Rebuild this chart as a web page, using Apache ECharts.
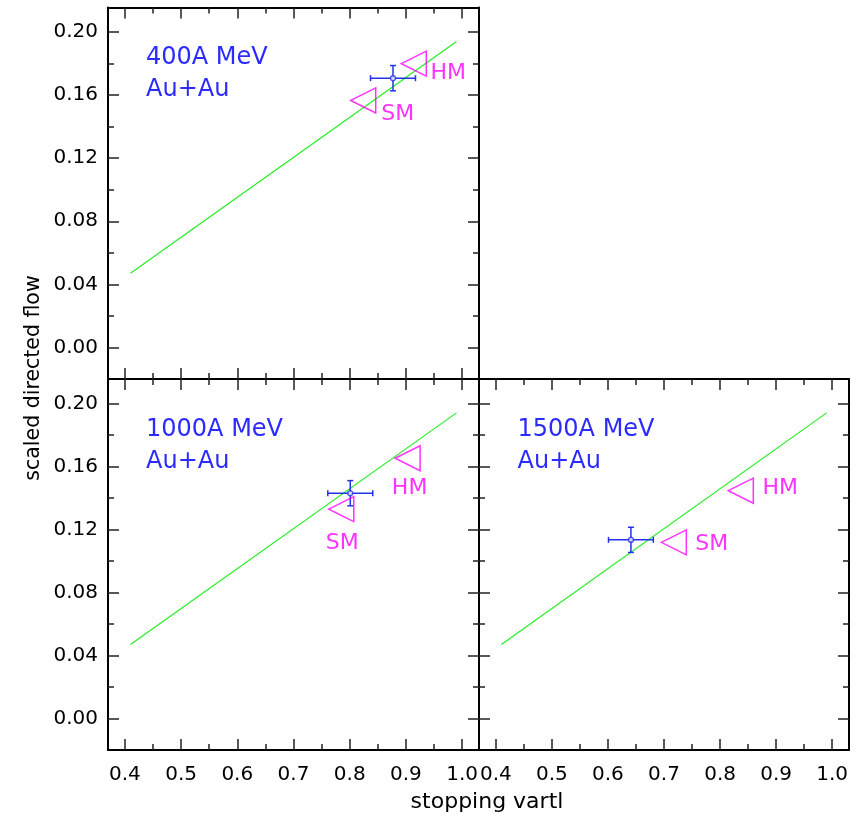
<!DOCTYPE html>
<html>
<head>
<meta charset="utf-8">
<script src="https://cdn.jsdelivr.net/npm/echarts@6/dist/echarts.min.js"></script>
<style>
html,body{margin:0;padding:0;background:#fff;}
#chart{width:867px;height:818px;}
</style>
</head>
<body>
<div id="chart"></div>
<script>
// ---- data ----
const xMajorTicks = [0.4, 0.5, 0.6, 0.7, 0.8, 0.9, 1.0];
const xMinorTicks = [0.45, 0.55, 0.65, 0.75, 0.85, 0.95];
const yMajorTicks = [0.00, 0.04, 0.08, 0.12, 0.16, 0.20];
const yMinorTicks = [0.02, 0.06, 0.10, 0.14, 0.18];

const panelEnergies = ['400A MeV', '1000A MeV', '1500A MeV'];
const systemName = 'Au+Au';

const fitLineX = [0.41, 0.99];
const fitLineY = [0.047, 0.194];

const expX = [0.877, 0.801, 0.641];
const expY = [0.1707, 0.143, 0.1134];
const expXErr = [0.040, 0.040, 0.040];
const expYErr = [0.008, 0.008, 0.008];

const hmX = [0.914, 0.903, 0.837];
const hmY = [0.1799, 0.1652, 0.1446];
const smX = [0.824, 0.785, 0.7175];
const smY = [0.1566, 0.1329, 0.1118];
const modelNames = ['HM', 'SM'];

const xTitle = 'stopping vartl';
const yTitle = 'scaled directed flow';

// ---- layout / style ----
const FONT = 'DejaVu Sans';
const BLUE = '#2b2bff';
const MAGENTA = '#ff00ff';
const GREEN = '#22ee22';
const ERR = '#2233e6';
const grids = [
  {left: 108, top: 7.5, width: 371, height: 371.5},
  {left: 108, top: 379, width: 371, height: 371},
  {left: 479, top: 379, width: 370, height: 371}
];
const showXLab = [false, true, true];
const showYLab = [true, true, false];
const hmLabelOffset = [[34.5, 10], [2, 30], [39.5, -2]];
const smLabelOffset = [[34.5, 14], [1, 34], [38, 2]];
const titlePos = [[146, 42], [146, 413.5], [517.5, 413.5]];

const xAxes = [], yAxes = [], series = [], titles = [];

function xAx(g, pos, ticks, len, main, labels) {
  return {
    gridIndex: g, type: 'value', min: 0.37, max: 1.03, position: pos,
    axisLine: {show: main, onZero: false, lineStyle: {color: '#000', width: 2}},
    splitLine: {show: false},
    axisTick: {show: true, inside: true, length: len, customValues: ticks, lineStyle: {color: '#222', width: 1.5}},
    axisLabel: {show: labels, customValues: ticks, formatter: v => v.toFixed(1), margin: 15,
      fontSize: 20, color: '#000', fontFamily: FONT}
  };
}
function yAx(g, pos, ticks, len, main, labels) {
  return {
    gridIndex: g, type: 'value', min: -0.02, max: 0.2155, position: pos,
    axisLine: {show: main, onZero: false, lineStyle: {color: '#000', width: 2}},
    splitLine: {show: false},
    axisTick: {show: true, inside: true, length: len, customValues: ticks, lineStyle: {color: '#222', width: 1.5}},
    axisLabel: {show: labels, customValues: ticks, formatter: v => v.toFixed(2), margin: 10,
      fontSize: 20, color: '#000', fontFamily: FONT}
  };
}

for (let g = 0; g < 3; g++) {
  const xi = xAxes.length, yi = yAxes.length;
  xAxes.push(xAx(g, 'bottom', xMajorTicks, 11, true, showXLab[g]));
  xAxes.push(xAx(g, 'bottom', xMinorTicks, 6, false, false));
  xAxes.push(xAx(g, 'top', xMajorTicks, 11, true, false));
  xAxes.push(xAx(g, 'top', xMinorTicks, 6, false, false));
  yAxes.push(yAx(g, 'left', yMajorTicks, 11, true, showYLab[g]));
  yAxes.push(yAx(g, 'left', yMinorTicks, 6, false, false));
  yAxes.push(yAx(g, 'right', yMajorTicks, 11, true, false));
  yAxes.push(yAx(g, 'right', yMinorTicks, 6, false, false));

  // fit line
  series.push({
    type: 'line', xAxisIndex: xi, yAxisIndex: yi, silent: true,
    data: fitLineX.map((x, i) => [x, fitLineY[i]]),
    showSymbol: false, lineStyle: {color: GREEN, width: 1.2}, z: 2
  });
  // error bars
  series.push({
    type: 'custom', xAxisIndex: xi, yAxisIndex: yi, z: 3,
    data: [[expX[g], expY[g], expXErr[g], expYErr[g]]],
    encode: {x: 0, y: 1},
    renderItem: function (params, api) {
      const x = api.value(0), y = api.value(1), ex = api.value(2), ey = api.value(3);
      const l = api.coord([x - ex, y]), r = api.coord([x + ex, y]);
      const b = api.coord([x, y - ey]), t = api.coord([x, y + ey]);
      const c = 3;
      const st = {stroke: ERR, lineWidth: 1.5};
      const seg = (x1, y1, x2, y2) => ({type: 'line', shape: {x1, y1, x2, y2}, style: st});
      return {type: 'group', children: [
        seg(l[0], l[1], r[0], r[1]),
        seg(l[0], l[1] - c, l[0], l[1] + c),
        seg(r[0], r[1] - c, r[0], r[1] + c),
        seg(b[0], b[1], t[0], t[1]),
        seg(b[0] - c, b[1], b[0] + c, b[1]),
        seg(t[0] - c, t[1], t[0] + c, t[1])
      ]};
    }
  });
  // data point
  series.push({
    type: 'scatter', xAxisIndex: xi, yAxisIndex: yi, z: 4,
    data: [[expX[g], expY[g]]], symbol: 'circle', symbolSize: 5,
    itemStyle: {color: '#fff', borderColor: ERR, borderWidth: 1.5}
  });
  // model triangles
  series.push({
    type: 'scatter', xAxisIndex: xi, yAxisIndex: yi, z: 5,
    data: [[hmX[g], hmY[g]], [smX[g], smY[g]]],
    symbol: 'triangle', symbolSize: [25, 25], symbolRotate: 90,
    itemStyle: {color: 'rgba(0,0,0,0)', borderColor: MAGENTA, borderWidth: 1.5}
  });
  // model labels
  series.push({
    type: 'scatter', xAxisIndex: xi, yAxisIndex: yi, z: 6,
    symbol: 'circle', symbolSize: 0.1, itemStyle: {color: 'rgba(0,0,0,0)'},
    data: [
      {value: [hmX[g], hmY[g]], name: modelNames[0], label: {offset: hmLabelOffset[g]}},
      {value: [smX[g], smY[g]], name: modelNames[1], label: {offset: smLabelOffset[g]}}
    ],
    label: {show: true, position: 'inside', formatter: p => p.name, color: MAGENTA,
      fontSize: 22, fontFamily: FONT}
  });
  titles.push({
    text: panelEnergies[g] + '\n' + systemName, left: titlePos[g][0], top: titlePos[g][1], padding: 0,
    textStyle: {fontSize: 24, lineHeight: 32, color: BLUE, fontWeight: 'normal', fontFamily: FONT}
  });
}

const chart = echarts.init(document.getElementById('chart'), null, {renderer: 'canvas'});
chart.setOption({
  animation: false,
  backgroundColor: '#fff',
  title: titles,
  grid: grids,
  xAxis: xAxes,
  yAxis: yAxes,
  series: series,
  graphic: [
    {type: 'text', x: 487, y: 802, style: {text: xTitle, font: '22px "DejaVu Sans"', fill: '#000', align: 'center', verticalAlign: 'middle'}},
    {type: 'text', x: 34, y: 378, rotation: Math.PI / 2, style: {text: yTitle, font: '20.5px "DejaVu Sans"', fill: '#000', align: 'center', verticalAlign: 'middle'}}
  ]
});
</script>
</body>
</html>
